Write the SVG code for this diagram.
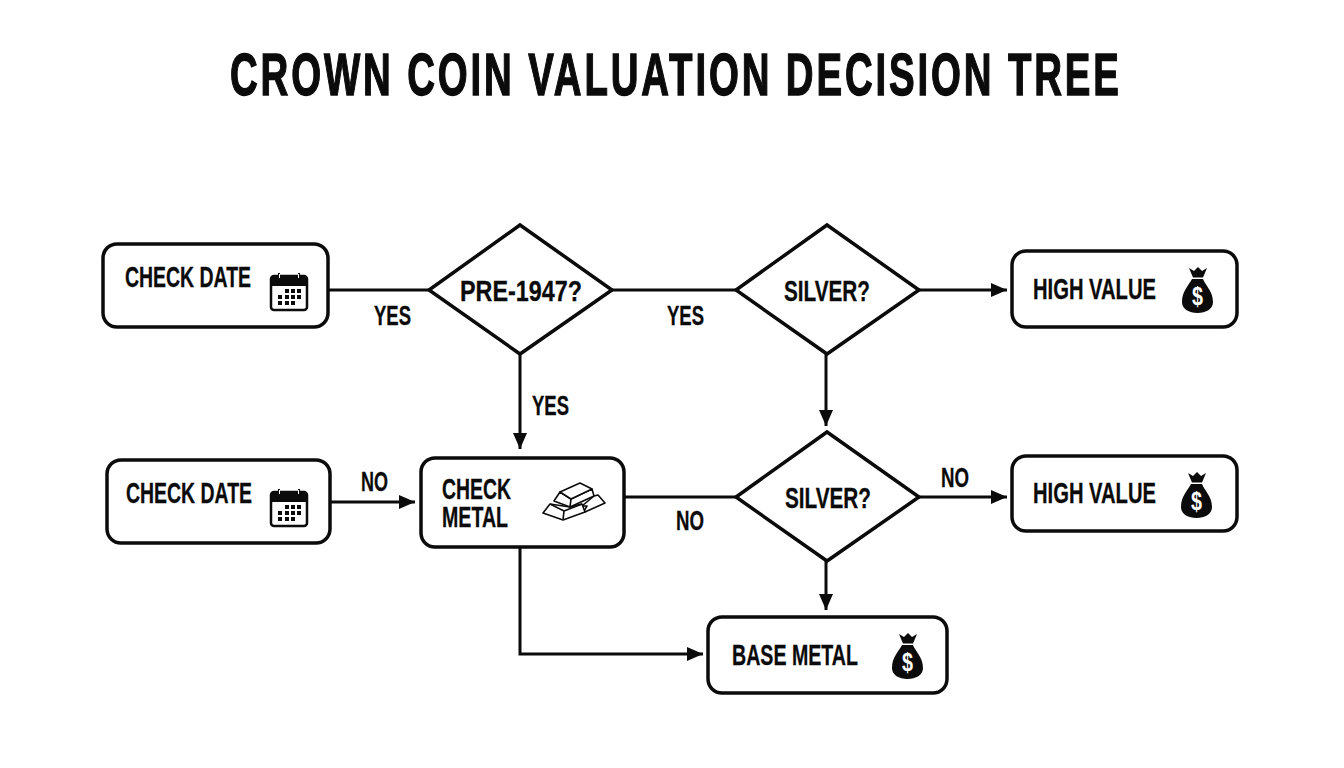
<svg xmlns="http://www.w3.org/2000/svg" width="1344" height="768" viewBox="0 0 1344 768">
<style>
text{font-family:"Liberation Sans",Arial,sans-serif;font-weight:700;fill:#0b0b0b;font-size:30px;stroke:#0b0b0b;stroke-width:.3}
.title{font-size:60px;stroke-width:1.400}
.lbl{font-size:28px}
.box{fill:#fff;stroke:#0b0b0b;stroke-width:3.5}
.ln{fill:none;stroke:#0b0b0b;stroke-width:3}
.ar{marker-end:url(#a)}
</style>
<defs>
<marker id="a" markerUnits="userSpaceOnUse" markerWidth="18" markerHeight="16" refX="16" refY="7" orient="auto"><path d="M0 0L16 7L0 14Z" fill="#0b0b0b"/></marker>
<g id="cal">
<rect x="0" y="2" width="36" height="34" rx="3" fill="#fff" stroke="#0b0b0b" stroke-width="2.5"/>
<path d="M0 5q0-3 3-3h30q3 0 3 3v7H0Z" fill="#0b0b0b"/>
<path d="M8 -1v6M28 -1v6" stroke="#0b0b0b" stroke-width="2"/>
<path d="M8.500 0v4M27.500 0v4" stroke="#fff" stroke-width="1"/>
<g fill="#0b0b0b"><rect x="14" y="15" width="4" height="4"/><rect x="20" y="15" width="4" height="4"/><rect x="26" y="15" width="4" height="4"/><rect x="7" y="21" width="4" height="4"/><rect x="14" y="21" width="4" height="4"/><rect x="20" y="21" width="4" height="4"/><rect x="26" y="21" width="4" height="4"/><rect x="7" y="27" width="4" height="4"/><rect x="14" y="27" width="4" height="4"/><rect x="20" y="27" width="4" height="4"/></g>
</g>
<g id="bag">
<path d="M8 1l5 3 4-4 4 4 5-3-4 9.500H12Z M11 12h11c2 6 10 12 10 23 0 7-7 11-15.500 11S1 42 1 35c0-11 7-17 10-23Z" fill="#0b0b0b"/>
<text x="16.500" y="38" text-anchor="middle" textLength="11" lengthAdjust="spacingAndGlyphs" style="font-size:25px;fill:#fff;stroke:none">$</text>
</g>
</defs>
<rect width="1344" height="768" fill="#fff"/>
<text class="title" transform="translate(230 95) scale(.64 1)" x="0" y="0" textLength="1389" lengthAdjust="spacing">CROWN COIN VALUATION DECISION TREE</text>
<g id="connectors">
<path class="ln" d="M328 290H429"/>
<path class="ln" d="M612 290H736"/>
<path class="ln ar" d="M919 290H1007"/>
<path class="ln ar" d="M520 354V449"/>
<path class="ln ar" d="M826 354V426"/>
<path class="ln ar" d="M330 502H415"/>
<path class="ln" d="M624 497H736"/>
<path class="ln ar" d="M919 497H1007"/>
<path class="ln ar" d="M826 561V610"/>
<path class="ln ar" d="M520 547V654H703"/>
</g>
<g id="label-yes-1"><text class="lbl" x="374" y="325" textLength="37" lengthAdjust="spacingAndGlyphs">YES</text></g>
<g id="label-yes-2"><text class="lbl" x="667" y="325" textLength="37" lengthAdjust="spacingAndGlyphs">YES</text></g>
<g id="label-yes-3"><text class="lbl" x="532" y="415" textLength="37" lengthAdjust="spacingAndGlyphs">YES</text></g>
<g id="label-no-1"><text class="lbl" x="361" y="491" textLength="27" lengthAdjust="spacingAndGlyphs">NO</text></g>
<g id="label-no-2"><text class="lbl" x="676" y="530" textLength="28" lengthAdjust="spacingAndGlyphs">NO</text></g>
<g id="label-no-3"><text class="lbl" x="941" y="487" textLength="28" lengthAdjust="spacingAndGlyphs">NO</text></g>
<g id="check-date-1">
<rect class="box" x="103" y="244" width="225" height="83" rx="14"/>
<text x="125" y="287" textLength="126" lengthAdjust="spacingAndGlyphs">CHECK DATE</text>
<use href="#cal" x="271" y="274"/>
</g>
<g id="pre-1947">
<path class="box" d="M520 225L612 290L520 354L429 290Z"/>
<text x="460" y="301" textLength="122" lengthAdjust="spacingAndGlyphs">PRE-1947?</text>
</g>
<g id="silver-1">
<path class="box" d="M827 225L919 290L827 354L736 290Z"/>
<text x="784" y="301" textLength="86" lengthAdjust="spacingAndGlyphs">SILVER?</text>
</g>
<g id="high-value-1">
<rect class="box" x="1012" y="251" width="225" height="76" rx="14"/>
<text x="1033" y="299" textLength="123" lengthAdjust="spacingAndGlyphs">HIGH VALUE</text>
<use href="#bag" x="1181" y="267"/>
</g>
<g id="check-date-2">
<rect class="box" x="107" y="460" width="223" height="83" rx="14"/>
<text x="126" y="503" textLength="126" lengthAdjust="spacingAndGlyphs">CHECK DATE</text>
<use href="#cal" x="271" y="490"/>
</g>
<g id="check-metal">
<rect class="box" x="421" y="458" width="203" height="89" rx="14"/>
<text x="442" y="499" textLength="69" lengthAdjust="spacingAndGlyphs">CHECK</text>
<text x="442" y="527" textLength="66" lengthAdjust="spacingAndGlyphs">METAL</text>
<g fill="#fff" stroke="#0b0b0b" stroke-width="1.600" stroke-linejoin="round">
<path d="M594 496L598 495L605 503L585 512L582 506Z"/>
<path d="M582 506L587 506L584 511Z"/>
<path d="M550 504L543 513L563 520L585 512L582 504L570 507Z"/>
<path d="M550 504L564 511L563 520M564 511L582 504"/>
<path d="M560 492L554 501L570 507L594 496L592 489L571 499Z"/>
<path d="M560 492L580 483L592 489L571 499Z"/>
<path d="M571 499L570 507"/>
</g>
</g>
<g id="silver-2">
<path class="box" d="M827 432L919 497L827 561L736 497Z"/>
<text x="785" y="508" textLength="86" lengthAdjust="spacingAndGlyphs">SILVER?</text>
</g>
<g id="high-value-2">
<rect class="box" x="1012" y="456" width="225" height="75" rx="14"/>
<text x="1033" y="503" textLength="123" lengthAdjust="spacingAndGlyphs">HIGH VALUE</text>
<use href="#bag" x="1180" y="472"/>
</g>
<g id="base-metal">
<rect class="box" x="708" y="617" width="239" height="76" rx="14"/>
<text x="732" y="665" textLength="126" lengthAdjust="spacingAndGlyphs">BASE METAL</text>
<use href="#bag" x="891" y="633"/>
</g>
</svg>
